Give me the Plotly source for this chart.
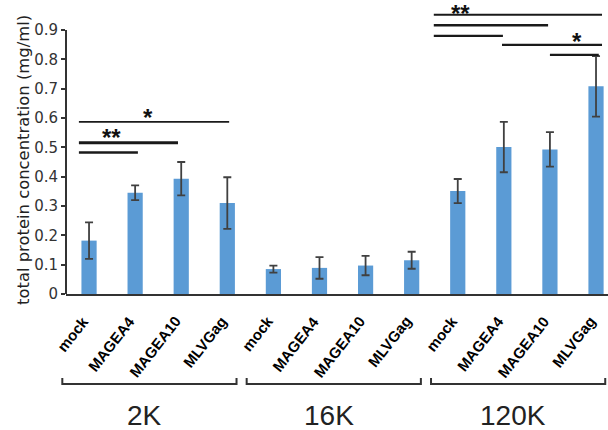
import plotly.graph_objects as go

# ---- data ----
groups = ["2K", "16K", "120K"]
conditions = ["mock", "MAGEA4", "MAGEA10", "MLVGag"]
values = [0.182, 0.345, 0.393, 0.310,
          0.085, 0.089, 0.097, 0.115,
          0.351, 0.501, 0.493, 0.708]
errors = [0.062, 0.025, 0.057, 0.088,
          0.012, 0.037, 0.033, 0.029,
          0.041, 0.086, 0.059, 0.103]
tick_values = [0, 0.1, 0.2, 0.3, 0.4, 0.5, 0.6, 0.7, 0.8, 0.9]
tick_labels = ["0", "0.1", "0.2", "0.3", "0.4", "0.5", "0.6", "0.7", "0.8", "0.9"]
y_title = "total protein concentration (mg/ml)"

# significance comparisons: (x start, x end, level, line width)
sig_lines = [
    (-0.22, 3.04, 0.587, 1.8),
    (-0.22, 1.93, 0.516, 3.0),
    (-0.22, 1.06, 0.482, 2.5),
    (7.48, 11.13, 0.952, 2.2),
    (7.48, 9.96, 0.916, 2.6),
    (7.48, 8.98, 0.880, 2.2),
    (8.96, 11.13, 0.849, 2.2),
    (10.00, 11.06, 0.815, 2.2),
]
sig_marks = [("*", 1.28, 0.602), ("**", 0.48, 0.534),
             ("**", 8.05, 0.957), ("*", 10.59, 0.861)]

labels = [c for g in groups for c in conditions]
xs = list(range(len(labels)))

XR = [-0.5, 11.26]
YR = [0, 1.0023]
PLOT_W, PLOT_H = 542, 294

fig = go.Figure()
fig.add_trace(go.Bar(
    x=xs, y=values, width=0.33,
    marker=dict(color="#5B9BD5", line=dict(width=0)),
    error_y=dict(type="data", array=errors, visible=True,
                 color="#404040", thickness=1.8, width=4),
))

def px(d):
    return (d - XR[0]) / (XR[1] - XR[0])

shapes = []
# y axis line from 0 to 0.9 only
shapes.append(dict(type="line", xref="paper", yref="paper", x0=0, x1=0,
                   y0=0, y1=0.9 / YR[1], line=dict(color="#333333", width=2)))
for x0, x1, yv, w in sig_lines:
    shapes.append(dict(type="line", xref="x", yref="y", x0=x0, x1=x1, y0=yv, y1=yv,
                       line=dict(color="#1a1a1a", width=w)))

annotations = []
for t, xv, yv in sig_marks:
    annotations.append(dict(text=t, x=xv, y=yv, xref="x", yref="y", showarrow=False,
                            font=dict(family="Arial", size=24, color="#111111", weight="bold"),
                            yanchor="middle", xanchor="center"))

# category labels, rotated
for xv, lab in zip(xs, labels):
    annotations.append(dict(text=lab, x=xv, y=-16 / PLOT_H, xref="x", yref="paper",
                            textangle=-52, showarrow=False, xanchor="right", yanchor="top",
                            xshift=6,
                            font=dict(family="Arial", size=15, color="black", weight="bold")))

# y-axis title as rotated annotation
annotations.append(dict(text=y_title, xref="paper", yref="paper",
                        x=-42 / PLOT_W, y=(PLOT_H - 160) / PLOT_H, textangle=-90,
                        showarrow=False, xanchor="center", yanchor="middle",
                        font=dict(family="DejaVu Sans", size=16.4, color="#222222")))

n = len(conditions)
yb = -90 / PLOT_H
yt = -84 / PLOT_H
for gi, g in enumerate(groups):
    a = px(gi * n - 0.58)
    b = px(gi * n + 3.2)
    shapes.append(dict(type="path", xref="paper", yref="paper",
                       path=f"M {a},{yt} L {a},{yb} L {b},{yb} L {b},{yt}",
                       line=dict(color="#333333", width=2)))
    annotations.append(dict(text=g, x=gi * n + 1.2, y=-121 / PLOT_H, xref="x", yref="paper",
                            showarrow=False, yanchor="middle", xanchor="center",
                            font=dict(family="Arial", size=28, color="#222222")))

fig.update_layout(
    template="none",
    width=608, height=430,
    margin=dict(l=66, r=0, t=0, b=136, pad=0),
    plot_bgcolor="white", paper_bgcolor="white",
    showlegend=False,
    shapes=shapes, annotations=annotations,
    xaxis=dict(range=XR, tickvals=xs, showticklabels=False, automargin=False,
               showline=True, linecolor="#333333", linewidth=2, ticks="",
               showgrid=False, zeroline=False),
    yaxis=dict(range=YR, tickvals=tick_values, ticktext=tick_labels, automargin=False,
               ticks="outside", ticklen=4, tickwidth=2, tickcolor="#333333",
               showline=False, showgrid=False, zeroline=False,
               tickfont=dict(family="DejaVu Sans", size=15, color="#333333")),
)

fig.write_html("out.html", config={"displayModeBar": False},
               post_script="document.body.style.margin='0';")
